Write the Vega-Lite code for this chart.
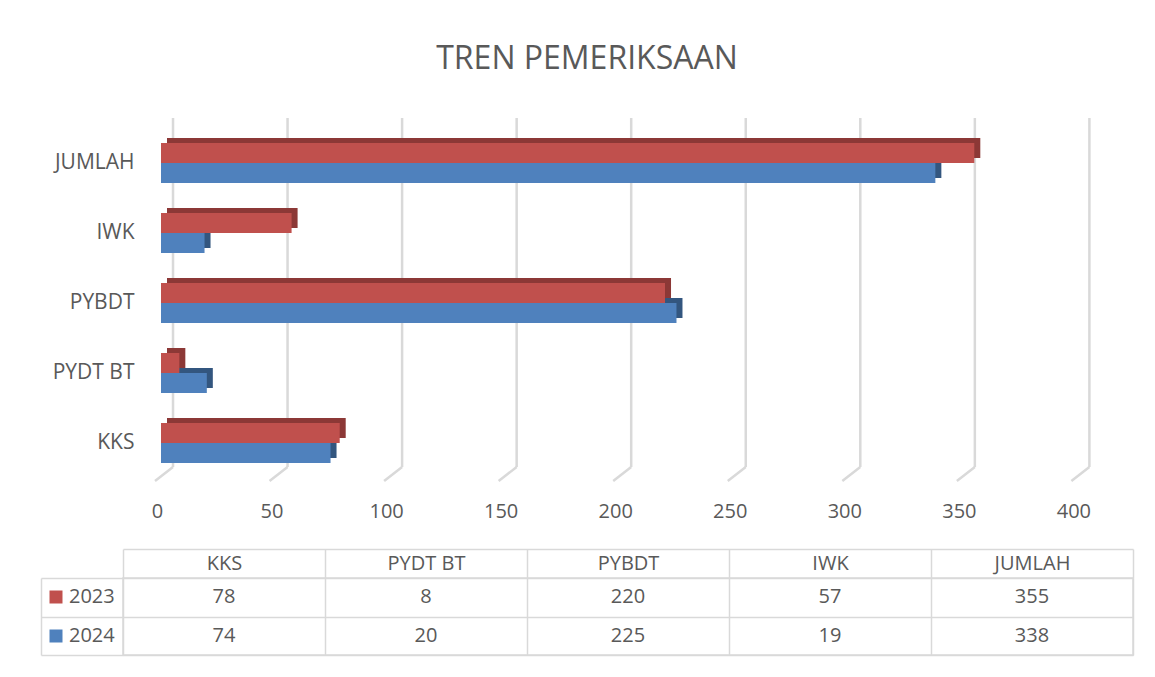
{
  "$schema": "https://vega.github.io/schema/vega-lite/v6.json",
  "background": "white",
  "padding": {"left": 39, "top": 42, "right": 20, "bottom": 20},
  "title": {"text": "TREN PEMERIKSAAN", "fontSize": 32, "font": "Open Sans", "fontWeight": "normal", "color": "#595959", "anchor": "middle", "offset": 41},
  "config": {
    "font": "Open Sans",
    "view": {"stroke": null},
    "axis": {"labelFont": "Open Sans", "labelFontSize": 20, "labelColor": "#595959"}
  },
  "datasets": {
    "main": [
      {"cat": "KKS", "year": "2023", "value": 78},
      {"cat": "KKS", "year": "2024", "value": 74},
      {"cat": "PYDT BT", "year": "2023", "value": 8},
      {"cat": "PYDT BT", "year": "2024", "value": 20},
      {"cat": "PYBDT", "year": "2023", "value": 220},
      {"cat": "PYBDT", "year": "2024", "value": 225},
      {"cat": "IWK", "year": "2023", "value": 57},
      {"cat": "IWK", "year": "2024", "value": 19},
      {"cat": "JUMLAH", "year": "2023", "value": 355},
      {"cat": "JUMLAH", "year": "2024", "value": 338}
    ],
    "ticks": [
      {"value": 0}, {"value": 50}, {"value": 100}, {"value": 150}, {"value": 200},
      {"value": 250}, {"value": 300}, {"value": 350}, {"value": 400}
    ]
  },
  "spacing": 100,
  "bounds": "flush",
  "resolve": {"scale": {"x": "independent", "y": "independent"}},
  "vconcat": [
    {
      "width": 1010,
      "height": 350,
      "layer": [
        {
          "data": {"name": "ticks"},
          "mark": {"type": "rule", "color": "#d9d9d9", "strokeWidth": 2.5, "xOffset": 12, "x2Offset": 12, "yOffset": -10, "y2Offset": -11},
          "encoding": {
            "x": {"field": "value", "type": "quantitative", "title": null,
              "scale": {"domain": [-16.59, 424.27], "nice": false, "zero": false},
              "axis": {"values": [0, 50, 100, 150, 200, 250, 300, 350, 400], "labelOffset": -4, "ticks": false, "domain": false, "grid": false, "labelPadding": 23}},
            "y": {"datum": "JUMLAH", "type": "nominal", "bandPosition": 0},
            "y2": {"datum": "KKS", "bandPosition": 1}
          }
        },
        {
          "data": {"name": "ticks"},
          "mark": {"type": "rule", "color": "#d9d9d9", "strokeWidth": 2.5, "xOffset": 12, "x2Offset": -6, "yOffset": -11, "y2Offset": 3},
          "encoding": {
            "x": {"field": "value", "type": "quantitative", "title": null},
            "x2": {"field": "value"},
            "y": {"datum": "KKS", "type": "nominal", "bandPosition": 1},
            "y2": {"datum": "KKS", "bandPosition": 1}
          }
        },
        {
          "data": {"name": "main"},
          "transform": [{"filter": "datum.year == '2023'"}],
          "mark": {"type": "bar", "size": 20, "yOffset": -15, "xOffset": 6, "x2Offset": 6, "color": "#8C3836"},
          "encoding": {
            "y": {"field": "cat", "type": "nominal", "title": null,
              "scale": {"domain": ["JUMLAH", "IWK", "PYBDT", "PYDT BT", "KKS"], "paddingInner": 0, "paddingOuter": 0},
              "axis": {"ticks": false, "domain": false, "labelPadding": -11, "labelAlign": "right", "labelFontSize": 21}},
            "x": {"field": "value", "type": "quantitative", "title": null},
            "x2": {"datum": 0}
          }
        },
        {
          "data": {"name": "main"},
          "transform": [{"filter": "datum.year == '2024'"}],
          "mark": {"type": "bar", "size": 20, "yOffset": 5, "xOffset": 6, "x2Offset": 6, "color": "#33567F"},
          "encoding": {
            "y": {"field": "cat", "type": "nominal", "title": null},
            "x": {"field": "value", "type": "quantitative", "title": null},
            "x2": {"datum": 0}
          }
        },
        {
          "data": {"name": "main"},
          "transform": [{"filter": "datum.year == '2024'"}],
          "mark": {"type": "bar", "size": 20, "yOffset": 10},
          "encoding": {
            "y": {"field": "cat", "type": "nominal", "title": null},
            "x": {"field": "value", "type": "quantitative", "title": null},
            "x2": {"datum": 0},
            "color": {"field": "year", "type": "nominal",
              "scale": {"domain": ["2023", "2024"], "range": ["#C0504D", "#4F81BD"]},
              "legend": {"orient": "none", "legendX": -77, "legendY": 459, "title": null, "symbolType": "square", "symbolSize": 169, "symbolStrokeWidth": 0, "labelFontSize": 20, "labelColor": "#595959", "labelFont": "Open Sans", "rowPadding": 19, "labelOffset": 3}}
          }
        },
        {
          "data": {"name": "main"},
          "transform": [{"filter": "datum.year == '2023'"}],
          "mark": {"type": "bar", "size": 20, "yOffset": -10},
          "encoding": {
            "y": {"field": "cat", "type": "nominal", "title": null},
            "x": {"field": "value", "type": "quantitative", "title": null},
            "x2": {"datum": 0},
            "color": {"field": "year", "type": "nominal"}
          }
        }
      ]
    },
    {
      "width": 1010,
      "height": 77,
      "view": {"stroke": "#d9d9d9", "strokeWidth": 1.5},
      "data": {"name": "main"},
      "mark": {"type": "text", "fontSize": 20, "color": "#595959", "font": "Open Sans"},
      "encoding": {
        "x": {"field": "cat", "type": "nominal", "title": null,
          "scale": {"domain": ["KKS", "PYDT BT", "PYBDT", "IWK", "JUMLAH"], "paddingInner": 0, "paddingOuter": 0},
          "axis": {"orient": "top", "offset": 29, "tickSize": -29, "tickBand": "extent", "domainColor": "#d9d9d9", "domainWidth": 1.5, "tickColor": "#d9d9d9", "tickWidth": 1.5, "grid": true, "gridColor": "#d9d9d9", "gridWidth": 1.5, "labelAngle": 0, "labelPadding": 14.5, "labelBaseline": "middle"}},
        "y": {"field": "year", "type": "nominal", "title": null,
          "scale": {"domain": ["2023", "2024"], "paddingInner": 0, "paddingOuter": 0},
          "axis": {"orient": "left", "offset": 82, "tickSize": -82, "tickBand": "extent", "labels": false, "domainColor": "#d9d9d9", "domainWidth": 1.5, "tickColor": "#d9d9d9", "tickWidth": 1.5, "grid": true, "gridColor": "#d9d9d9", "gridWidth": 1.5}},
        "text": {"field": "value", "type": "quantitative"}
      }
    }
  ]
}
